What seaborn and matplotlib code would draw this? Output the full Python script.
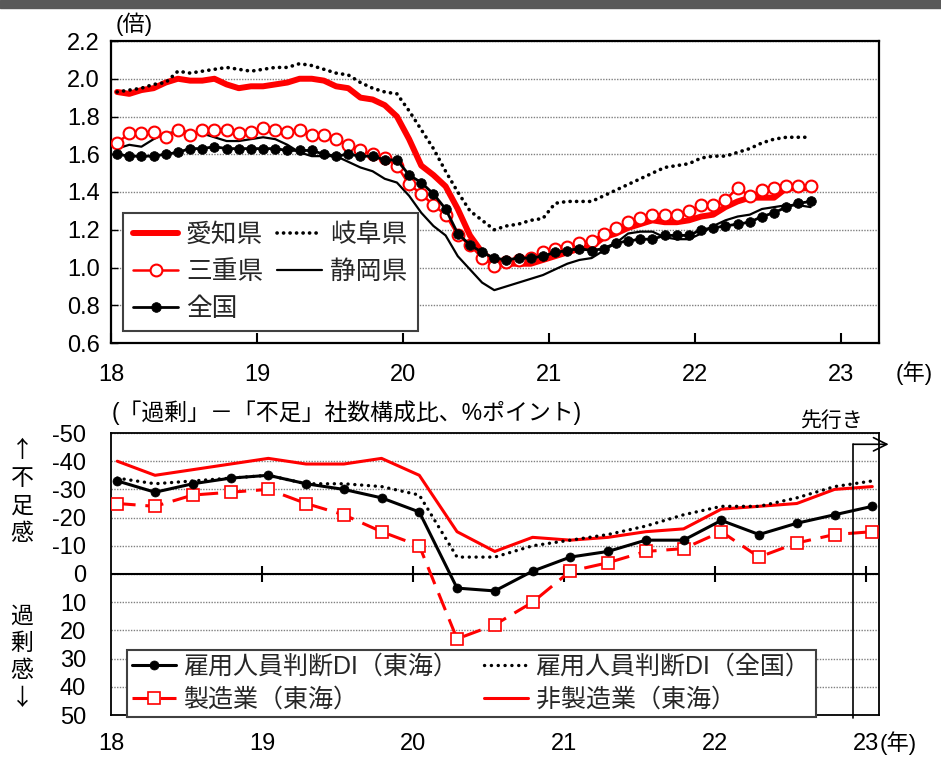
import numpy as np
import pandas as pd
import matplotlib
matplotlib.use("Agg")
import matplotlib.pyplot as plt
import seaborn as sns
from matplotlib.patches import Rectangle

# 有効求人倍率（季節調整値・月次）2018年1月～2022年10月
aichi = [1.93, 1.92, 1.94, 1.95, 1.98, 2.00, 1.99, 1.99, 2.00, 1.97,
         1.95, 1.96, 1.96, 1.97, 1.98, 2.00, 2.00, 1.99, 1.96, 1.95,
         1.90, 1.89, 1.86, 1.80, 1.68, 1.54, 1.49, 1.43, 1.31, 1.17,
         1.08, 1.03, 1.02, 1.02, 1.02, 1.04, 1.06, 1.08, 1.10, 1.11,
         1.16, 1.18, 1.21, 1.23, 1.25, 1.24, 1.24, 1.25, 1.27, 1.28,
         1.32, 1.35, 1.37, 1.37, 1.37, 1.42, 1.42, 1.42]
gifu = [1.93, 1.94, 1.95, 1.97, 1.98, 2.04, 2.03, 2.04, 2.05, 2.06,
        2.05, 2.04, 2.05, 2.06, 2.06, 2.08, 2.07, 2.05, 2.03, 2.02,
        1.98, 1.95, 1.93, 1.92, 1.83, 1.73, 1.63, 1.51, 1.40, 1.30,
        1.25, 1.20, 1.22, 1.23, 1.25, 1.26, 1.34, 1.35, 1.35, 1.35,
        1.38, 1.41, 1.44, 1.47, 1.50, 1.53, 1.54, 1.55, 1.58, 1.59,
        1.59, 1.61, 1.63, 1.66, 1.68, 1.69, 1.69, 1.69]
mie = [1.66, 1.71, 1.71, 1.72, 1.69, 1.73, 1.70, 1.73, 1.73, 1.73,
       1.71, 1.72, 1.74, 1.73, 1.72, 1.73, 1.70, 1.70, 1.68, 1.65,
       1.62, 1.60, 1.58, 1.54, 1.44, 1.39, 1.33, 1.28, 1.17, 1.12,
       1.05, 1.01, 1.03, 1.04, 1.05, 1.08, 1.10, 1.11, 1.13, 1.14,
       1.18, 1.21, 1.24, 1.26, 1.28, 1.28, 1.28, 1.30, 1.33, 1.33,
       1.36, 1.42, 1.38, 1.41, 1.42, 1.43, 1.43, 1.43]
shizuoka = [1.63, 1.65, 1.64, 1.68, 1.71, 1.72, 1.72, 1.71, 1.69, 1.67,
            1.67, 1.68, 1.69, 1.68, 1.65, 1.61, 1.59, 1.59, 1.59, 1.56,
            1.53, 1.51, 1.47, 1.45, 1.38, 1.29, 1.22, 1.17, 1.06, 0.99,
            0.92, 0.88, 0.90, 0.92, 0.94, 0.96, 0.99, 1.02, 1.04, 1.05,
            1.09, 1.13, 1.18, 1.19, 1.19, 1.16, 1.15, 1.15, 1.18, 1.22,
            1.25, 1.27, 1.28, 1.31, 1.32, 1.33, 1.33, 1.32]
zenkoku = [1.60, 1.59, 1.59, 1.59, 1.60, 1.61, 1.63, 1.63, 1.64, 1.63,
           1.63, 1.63, 1.63, 1.63, 1.62, 1.62, 1.62, 1.60, 1.59, 1.60,
           1.59, 1.59, 1.57, 1.57, 1.49, 1.45, 1.39, 1.31, 1.18, 1.12,
           1.08, 1.05, 1.04, 1.05, 1.05, 1.06, 1.08, 1.09, 1.10, 1.09,
           1.10, 1.13, 1.14, 1.15, 1.15, 1.17, 1.17, 1.17, 1.20, 1.21,
           1.22, 1.23, 1.24, 1.27, 1.29, 1.32, 1.34, 1.35]

# 雇用人員判断DI（四半期）2018年1～3月期～2023年1～3月期（先行き）
di_tokai = [-33, -29, -32, -34, -35, -32, -30, -27, -22, 5, 6,
            -1, -6, -8, -12, -12, -19, -14, -18, -21, -24]
di_zenkoku = [-34, -32, -33, -34, -35, -32, -32, -31, -28, -6, -6,
              -10, -12, -14, -17, -21, -24, -24, -27, -31, -33]
di_mfg = [-25, -24, -28, -29, -30, -25, -21, -15, -10, 23, 18,
          10, -1, -4, -8, -9, -15, -6, -11, -14, -15]
di_nonmfg = [-40, -35, -37, -39, -41, -39, -39, -41, -35, -15, -8,
             -13, -12, -13, -15, -16, -23, -24, -25, -30, -31]

year_ticks = [18, 19, 20, 21, 22, 23]
ratio_ticks = [0.6, 0.8, 1.0, 1.2, 1.4, 1.6, 1.8, 2.0, 2.2]
di_ticks = [-50, -40, -30, -20, -10, 0, 10, 20, 30, 40, 50]

RED = "#FF0000"
BLACK = "#000000"
GRID = "#808080"

sns.set_theme(style="white")
plt.rcParams["font.family"] = ["Liberation Sans", "Noto Sans CJK JP"]
plt.rcParams["axes.unicode_minus"] = False
CJK = ["Noto Sans CJK JP", "DejaVu Sans"]

# 年（2000年基準）の小数表示：各月の中央に配置
months = pd.date_range("2018-01-01", periods=len(aichi), freq="MS")
xm = (months.year - 2000) + (months.month - 0.5) / 12
quarters = pd.date_range("2018-01-01", periods=len(di_tokai), freq="QS")
xq = (quarters.year - 2000) + (quarters.month - 0.5) / 12

top = pd.DataFrame({"x": xm, "aichi": aichi, "gifu": gifu, "mie": mie,
                    "shizuoka": shizuoka, "zenkoku": zenkoku})
bottom = pd.DataFrame({"x": xq, "tokai": di_tokai, "zenkoku": di_zenkoku,
                       "mfg": di_mfg, "nonmfg": di_nonmfg})

W, H = 941, 757
fig = plt.figure(figsize=(W / 100, H / 100), dpi=100)


def box(l, t, r, b):
    return [l / W, 1 - b / H, (r - l) / W, (b - t) / H]


def fx(px):
    return px / W


def fy(py):
    return 1 - py / H


fig.add_artist(Rectangle((0, fy(8)), 1, 8 / H, transform=fig.transFigure,
                         color="#595959", zorder=0))

ax1 = fig.add_axes(box(111, 41, 879, 343))
ax2 = fig.add_axes(box(111, 433, 879, 715))

# ---- 上段：有効求人倍率 ----
dot = (0, (0.05, 1.75))
sns.lineplot(data=top, x="x", y="aichi", ax=ax1, color=RED, linewidth=4.3,
             solid_joinstyle="round", legend=False, zorder=3)
sns.lineplot(data=top, x="x", y="gifu", ax=ax1, color=BLACK, linewidth=2.6,
             linestyle=dot, dash_capstyle="round", legend=False, zorder=3)
sns.lineplot(data=top, x="x", y="shizuoka", ax=ax1, color=BLACK,
             linewidth=1.6, legend=False, zorder=3)
sns.lineplot(data=top, x="x", y="mie", ax=ax1, color=RED, linewidth=1.8,
             marker="o", markersize=8.5, markerfacecolor="white",
             markeredgecolor=RED, markeredgewidth=1.5, legend=False, zorder=4)
sns.lineplot(data=top, x="x", y="zenkoku", ax=ax1, color=BLACK,
             linewidth=2.0, marker="o", markersize=7,
             markerfacecolor=BLACK, markeredgecolor=BLACK,
             markeredgewidth=0.5, legend=False, zorder=5)
h_aichi, h_gifu, h_shiz, h_mie, h_zen = ax1.get_lines()[:5]

ax1.set_xlim(18, 23.26)
ax1.set_ylim(0.6, 2.2)
ax1.set_xticks(year_ticks)
ax1.set_xticklabels([str(t) for t in year_ticks])
ax1.set_yticks(ratio_ticks)
ax1.set_yticklabels([f"{t:.1f}" for t in ratio_ticks])
ax1.set_xlabel("")
ax1.set_ylabel("")
ax1.tick_params(axis="x", direction="in", length=7, width=1.5, pad=15,
                labelsize=17, colors=BLACK, bottom=True)
ax1.tick_params(axis="y", direction="in", length=5, width=1, pad=8,
                labelsize=17, colors=BLACK, left=True)
ax1.yaxis.grid(True, color=GRID, linestyle=(0, (1, 1)), linewidth=1)
ax1.xaxis.grid(False)
for s in ax1.spines.values():
    s.set_color(BLACK)
    s.set_linewidth(1.6)

leg1 = ax1.legend([h_aichi, h_mie, h_zen, h_gifu, h_shiz],
                  ["愛知県", "三重県", "全国", "岐阜県", "静岡県"],
                  ncol=2, loc="upper left",
                  bbox_to_anchor=(fx(123), fy(213)),
                  bbox_transform=fig.transFigure, fontsize=18.5,
                  frameon=True, fancybox=False, edgecolor="#404040",
                  framealpha=1, borderaxespad=0, handlelength=1.75,
                  handletextpad=0.3, columnspacing=0.55, labelspacing=0.5,
                  borderpad=0.4, numpoints=1)
leg1.get_frame().set_linewidth(1.5)

# ---- 下段：雇用人員判断DI ----
sns.lineplot(data=bottom, x="x", y="nonmfg", ax=ax2, color=RED,
             linewidth=2.2, legend=False, zorder=3)
sns.lineplot(data=bottom, x="x", y="zenkoku", ax=ax2, color=BLACK,
             linewidth=2.4, linestyle=(0, (0.05, 2.0)), dash_capstyle="round",
             legend=False, zorder=3)
sns.lineplot(data=bottom, x="x", y="mfg", ax=ax2, color=RED, linewidth=2.2,
             linestyle=(0, (6, 3.2)), marker="s", markersize=8,
             markerfacecolor="white", markeredgecolor=RED,
             markeredgewidth=1.2, legend=False, zorder=4)
sns.lineplot(data=bottom, x="x", y="tokai", ax=ax2, color=BLACK,
             linewidth=2.2, marker="o", markersize=6.5,
             markerfacecolor=BLACK, markeredgecolor=BLACK,
             markeredgewidth=0.5, legend=False, zorder=5)
h_non, h_dzen, h_mfg, h_tokai = ax2.get_lines()[:4]

ax2.set_xlim(18, 23.086)
ax2.set_ylim(50, -50)
ax2.set_xticks(year_ticks)
ax2.set_xticklabels([str(t) for t in year_ticks])
ax2.set_yticks(di_ticks)
ax2.set_yticklabels([str(t) for t in di_ticks])
ax2.set_xlabel("")
ax2.set_ylabel("")
ax2.tick_params(axis="x", length=0, pad=13, labelsize=17, colors=BLACK)
ax2.tick_params(axis="y", length=0, pad=18, labelsize=17, colors=BLACK)
ax2.yaxis.grid(True, color=GRID, linestyle=(0, (1, 1)), linewidth=1)
ax2.xaxis.grid(False)
for s in ax2.spines.values():
    s.set_color(BLACK)
    s.set_linewidth(1.3)
ax2.axhline(0, color=BLACK, linewidth=1.5, zorder=2)
ax2.vlines(year_ticks[1:], -2.8, 2.8, color=BLACK, linewidth=1.5, zorder=2)

# 先行き（最新調査の見通し）の区切り
x_fc = (xq[-2] + xq[-1]) / 2
ax2.plot([x_fc, x_fc], [-46, 51], color=BLACK, linewidth=1.2,
         clip_on=False, zorder=6)
ax2.annotate("", xy=(23.15, -46), xytext=(x_fc, -46),
             arrowprops=dict(arrowstyle="->,head_length=0.8,head_width=0.4",
                             color=BLACK, lw=1.2, shrinkA=0, shrinkB=0),
             annotation_clip=False, zorder=6)

leg2 = ax2.legend([h_tokai, h_mfg, h_dzen, h_non],
                  ["雇用人員判断DI（東海）", "製造業（東海）",
                   "雇用人員判断DI（全国）", "非製造業（東海）"],
                  ncol=2, loc="upper left",
                  bbox_to_anchor=(fx(127), fy(650)),
                  bbox_transform=fig.transFigure, fontsize=18,
                  frameon=True, fancybox=False, edgecolor="#404040",
                  framealpha=1, borderaxespad=0, handlelength=1.75,
                  handletextpad=0.3, columnspacing=1.05, labelspacing=0.35,
                  borderpad=0.2, numpoints=1)
leg2.get_frame().set_linewidth(1.5)

# ---- 注記 ----
fig.text(fx(116), fy(24), "(倍)", ha="left", va="center", fontsize=16,
         color=BLACK)
fig.text(fx(914), fy(373), "(年)", ha="center", va="center", fontsize=16,
         color=BLACK)
fig.text(fx(880), fy(743), "(年)", ha="left", va="center", fontsize=16,
         color=BLACK)
fig.text(fx(112), fy(413), "(「過剰」－「不足」社数構成比、%ポイント)",
         ha="left", va="center", fontsize=16.5, color=BLACK)
fig.text(fx(831), fy(421), "先行き", ha="center", va="center", fontsize=15,
         color=BLACK)
fig.text(fx(22), fy(492), "↑\n不\n足\n感", ha="center", va="center",
         fontsize=16.5, color=BLACK, linespacing=1.25, family=CJK)
fig.text(fx(22), fy(657), "過\n剰\n感\n↓", ha="center", va="center",
         fontsize=16.5, color=BLACK, linespacing=1.25, family=CJK)

fig.savefig("out.png", dpi=100)
